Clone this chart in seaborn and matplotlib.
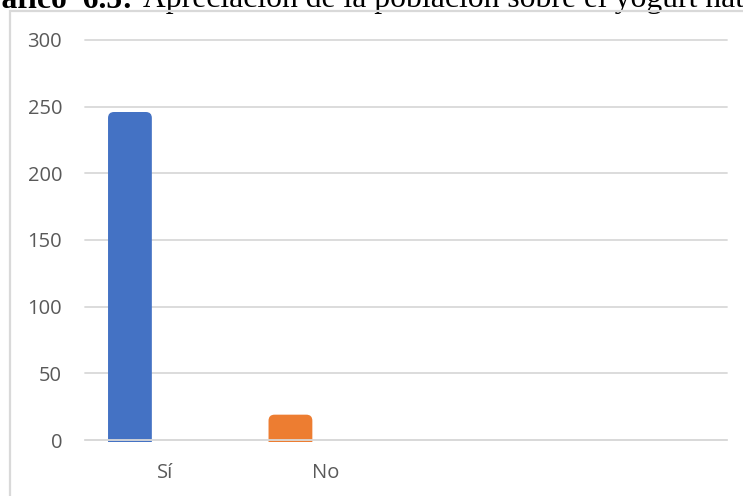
import numpy as np
import matplotlib
matplotlib.use("Agg")
import matplotlib.pyplot as plt
import seaborn as sns
from matplotlib.patches import FancyBboxPatch, Rectangle

# Survey answers and counts
categories = ["Sí", "No"]
counts = [246, 19]
bar_colors = ["#4472C4", "#ED7D31"]
y_ticks = [0, 50, 100, 150, 200, 250, 300]

sns.set_theme(style="white")
plt.rcParams["font.family"] = ["Open Sans", "DejaVu Sans"]

W, H = 743, 496
fig = plt.figure(figsize=(W / 100, H / 100), dpi=100)
fig.patch.set_facecolor("white")

# Caption line above the chart frame (only its lower part fits in the figure)
cap_y = 1 - 7.5 / H
cap_size = 22.75
fig.text(133 / W, cap_y, "Gráfico  6.5:", ha="right", va="baseline",
         family="Liberation Serif", weight="bold", size=cap_size, color="black")
fig.text(143 / W, cap_y, "Apreciación de la población sobre el yogurt natural",
         ha="left", va="baseline", family="Liberation Serif", size=cap_size,
         color="black")

# Chart frame
fig.add_artist(Rectangle((9.5 / W, -0.2), 1.2, 1 - 11 / H + 0.2,
                         transform=fig.transFigure, fill=False,
                         ec="#d9d9d9", lw=1.6, zorder=5))

ax = fig.add_axes([85 / W, 1 - 440 / H, 642 / W, 400 / H])
sns.barplot(x=categories, y=counts, hue=categories, palette=bar_colors,
            width=0.273, saturation=1, legend=False, ax=ax)

ax.set_xlim(-0.28, 3.72)
ax.set_ylim(0, 300)

# Rounded tops on the bars
px_per_x = 642 / 4.0
px_per_y = 400 / 300
r_px = 6
r_x = r_px / px_per_x
aspect = (r_px / px_per_y) / r_x
drop = 1.5 / px_per_y
clip = Rectangle((-10, -drop), 100, 1000, transform=ax.transData)
for p in list(ax.patches):
    x0, w, h = p.get_x(), p.get_width(), p.get_height()
    fc = p.get_facecolor()
    p.remove()
    extra = r_px / px_per_y + drop
    fb = FancyBboxPatch((x0, -extra), w, h + extra,
                        boxstyle=f"round,pad=0,rounding_size={r_x}",
                        mutation_aspect=aspect, fc=fc, ec="none", zorder=2)
    ax.add_patch(fb)
    fb.set_clip_path(clip)
    fb.set_clip_on(True)

ax.set_yticks(y_ticks)
ax.set_xticks([0.22, 1.22], labels=categories)
ax.yaxis.grid(True, color="#d9d9d9", lw=1.3, zorder=0)
ax.xaxis.grid(False)
ax.set_axisbelow(True)
for gl in ax.get_ygridlines():
    gl.set_clip_on(False)
# Category axis line drawn over the bar bases
ax.axhline(0, color="#d9d9d9", lw=1.3, zorder=3, clip_on=False)
for s in ax.spines.values():
    s.set_visible(False)
ax.tick_params(axis="both", length=0, labelsize=14.5, labelcolor="#595959",
               pad=16.5)
ax.set_xlabel("")
ax.set_ylabel("")

fig.savefig("out.png", dpi=100, facecolor="white")
